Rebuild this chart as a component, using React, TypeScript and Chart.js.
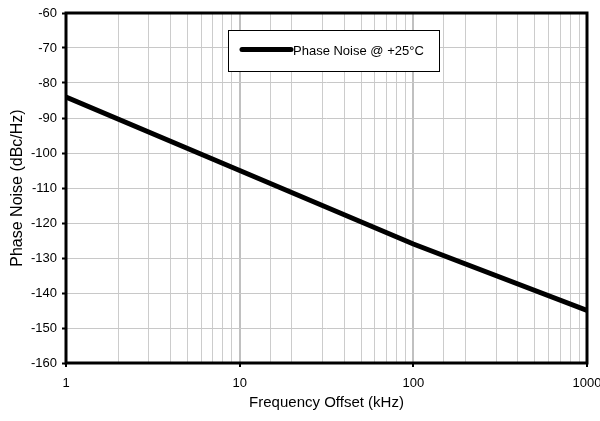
import React, { useEffect, useRef } from "react";
import { Chart, registerables } from "chart.js";

Chart.register(...registerables);

const freqOffsetKHz = [1, 10, 100, 1000];
const phaseNoise = [-84, -105, -126, -145];
const seriesLabel = "Phase Noise @ +25°C";
const xTitle = "Frequency Offset (kHz)";
const yTitle = "Phase Noise (dBc/Hz)";
const yMin = -160;
const yMax = -60;
const yStep = 10;
const xMin = 1;
const xMax = 1000;

const FONT = "Arial, 'Liberation Sans', Helvetica, sans-serif";

const isDecade = (v: number) => {
  const l = Math.log10(v);
  return Math.abs(l - Math.round(l)) < 1e-9;
};

const framePlugin = {
  id: "frameAndLegend",
  afterDatasetsDraw(chart: any) {
    const { ctx, chartArea } = chart;
    ctx.save();
    ctx.strokeStyle = "#000";
    ctx.lineWidth = 3;
    ctx.strokeRect(chartArea.left, chartArea.top, chartArea.right - chartArea.left, chartArea.bottom - chartArea.top);

    // legend box
    const ds = chart.data.datasets[0];
    const bx = 228.5, by = 30.5, bw = 211, bh = 41;
    ctx.fillStyle = "#fff";
    ctx.fillRect(bx, by, bw, bh);
    ctx.lineWidth = 1;
    ctx.strokeStyle = "#000";
    ctx.strokeRect(bx, by, bw, bh);
    ctx.beginPath();
    ctx.lineWidth = 5;
    ctx.lineCap = "round";
    ctx.moveTo(242, 49.5);
    ctx.lineTo(291, 49.5);
    ctx.stroke();
    ctx.fillStyle = "#000";
    ctx.font = `13px ${FONT}`;
    ctx.textBaseline = "middle";
    ctx.textAlign = "left";
    ctx.fillText(ds.label, 293, 51);
    ctx.restore();
  },
};

export default function App() {
  const ref = useRef<HTMLCanvasElement | null>(null);
  useEffect(() => {
    if (!ref.current) return;
    const chart = new Chart(ref.current, {
      type: "line",
      data: {
        datasets: [
          {
            label: seriesLabel,
            data: freqOffsetKHz.map((x, i) => ({ x, y: phaseNoise[i] })),
            borderColor: "#000",
            borderWidth: 5,
            pointRadius: 0,
            fill: false,
            tension: 0,
          },
        ],
      },
      options: {
        responsive: false,
        maintainAspectRatio: false,
        animation: false,
        layout: { padding: { top: 13, right: 13, left: 0, bottom: 0 } },
        plugins: { legend: { display: false }, tooltip: { enabled: false } },
        scales: {
          x: {
            type: "logarithmic",
            min: xMin,
            max: xMax,
            afterFit: (s: any) => {
              s.height = 58;
              s.paddingLeft = 0;
              s.paddingRight = 0;
            },
            border: { display: false },
            grid: {
              color: (c: any) => (c.tick && isDecade(c.tick.value) ? "#c0c0c0" : "#cccccc"),
              lineWidth: (c: any) => (c.tick && isDecade(c.tick.value) ? 2 : 1),
              tickColor: (c: any) => (c.tick && isDecade(c.tick.value) ? "#000" : "rgba(0,0,0,0)"),
              tickLength: 4,
              tickWidth: 2,
            },
            ticks: {
              autoSkip: false,
              maxRotation: 0,
              color: "#000",
              padding: 9,
              font: { family: FONT, size: 13 },
              callback: (v: any) => (isDecade(Number(v)) ? String(v) : ""),
            },
            title: {
              display: true,
              text: xTitle,
              color: "#000",
              font: { family: FONT, size: 15 },
              padding: { top: 0, bottom: 9 },
            },
          },
          y: {
            min: yMin,
            max: yMax,
            afterFit: (s: any) => {
              s.width = 66;
            },
            border: { display: false },
            grid: {
              color: "#c8c8c8",
              lineWidth: 1,
              tickColor: "#000",
              tickLength: 4,
              tickWidth: 2,
            },
            ticks: {
              stepSize: yStep,
              color: "#000",
              padding: 5,
              font: { family: FONT, size: 13 },
            },
            title: {
              display: true,
              text: yTitle,
              color: "#000",
              font: { family: FONT, size: 16 },
              padding: { top: 8, bottom: 0 },
            },
          },
        },
      },
      plugins: [framePlugin],
    });
    return () => chart.destroy();
  }, []);
  return (
    <div style={{ position: "absolute", left: 0, top: 0, width: 600, height: 421, background: "#fff" }}>
      <canvas ref={ref} width={600} height={421} style={{ width: 600, height: 421, display: "block" }} />
    </div>
  );
}
